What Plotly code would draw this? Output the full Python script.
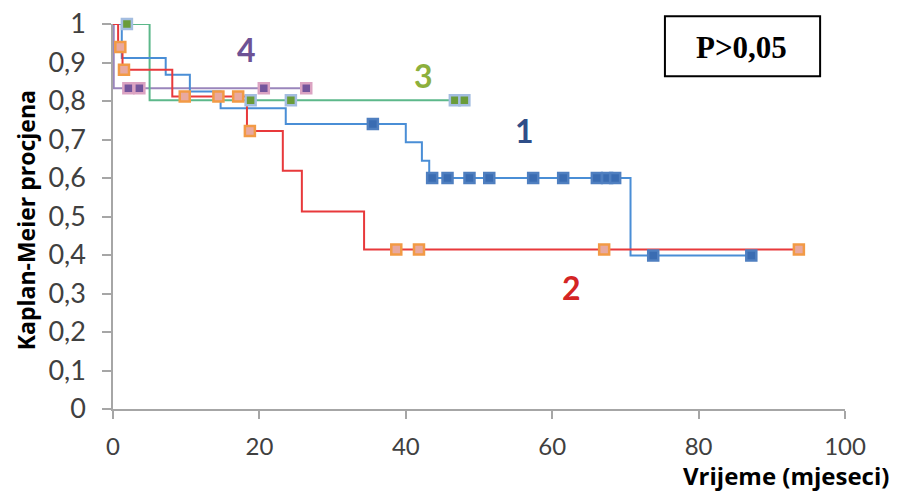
import plotly.graph_objects as go

# ---- data ----
x_ticks = [0, 20, 40, 60, 80, 100]
y_ticks = [0, 0.1, 0.2, 0.3, 0.4, 0.5, 0.6, 0.7, 0.8, 0.9, 1.0]
y_tick_labels = ["0", "0,1", "0,2", "0,3", "0,4", "0,5", "0,6", "0,7", "0,8", "0,9", "1"]

# group 1 (blue)
g1_t = [0, 1.2, 7.2, 10.5, 14.7, 23.6, 40.0, 42.2, 43.2, 70.7, 87.2]
g1_s = [1, 0.912, 0.868, 0.825, 0.781, 0.740, 0.693, 0.645, 0.600, 0.399, 0.399]
g1_ct = [35.5, 43.6, 45.7, 48.7, 51.4, 57.4, 61.5, 66.1, 67.5, 68.6, 73.8, 87.2]
g1_cs = [0.740, 0.600, 0.600, 0.600, 0.600, 0.600, 0.600, 0.600, 0.600, 0.600, 0.399, 0.399]

# group 2 (red)
g2_t = [0, 0.7, 1.3, 8.1, 18.3, 23.2, 25.8, 34.3, 93.7]
g2_s = [1, 0.940, 0.881, 0.812, 0.722, 0.619, 0.513, 0.414, 0.414]
g2_ct = [1.0, 1.5, 9.8, 14.4, 17.1, 18.7, 38.7, 41.8, 67.1, 93.7]
g2_cs = [0.940, 0.881, 0.812, 0.812, 0.812, 0.722, 0.414, 0.414, 0.414, 0.414]

# group 3 (green)
g3_t = [0, 5.0, 48.0]
g3_s = [1, 0.802, 0.802]
g3_ct = [1.9, 18.8, 24.3, 46.7, 48.0]
g3_cs = [1.0, 0.802, 0.802, 0.802, 0.802]

# group 4 (purple)
g4_t = [0, 0.1, 26.4]
g4_s = [1, 0.833, 0.833]
g4_ct = [2.1, 3.6, 20.6, 26.4]
g4_cs = [0.833, 0.833, 0.833, 0.833]

group_labels = ["1", "2", "3", "4"]
label_x = [56.2, 62.7, 42.4, 18.2]
label_y = [0.723, 0.315, 0.866, 0.933]

# ---- styles ----
groups = [
    (g1_t, g1_s, g1_ct, g1_cs, "#4a8ed6", "#3a6cb2", "#4f7fc0", "#2f4e88"),
    (g2_t, g2_s, g2_ct, g2_cs, "#e8393b", "#e8a9a0", "#f29a45", "#d42424"),
    (g3_t, g3_s, g3_ct, g3_cs, "#5cb88a", "#6a9c3a", "#a3bde0", "#8db03c"),
    (g4_t, g4_s, g4_ct, g4_cs, "#9a86bc", "#74559c", "#dba3c2", "#6d5295"),
]

fig = go.Figure()
draw_order = [3, 2, 0, 1]
for i in draw_order:
    t, s, ct, cs, lc, mc, mlc, _ = groups[i]
    fig.add_trace(go.Scatter(x=t, y=s, mode="lines", line=dict(color=lc, width=2, shape="hv"),
                             showlegend=False, hoverinfo="skip", cliponaxis=False))
for i in draw_order:
    t, s, ct, cs, lc, mc, mlc, _ = groups[i]
    fig.add_trace(go.Scatter(x=ct, y=cs, mode="markers",
                             marker=dict(symbol="square", size=10, color=mc,
                                         line=dict(color=mlc, width=2.5)),
                             showlegend=False, hoverinfo="skip", cliponaxis=False))

for i, lab in enumerate(group_labels):
    fig.add_annotation(x=label_x[i], y=label_y[i], xref="x", yref="y", text="<b>%s</b>" % lab,
                       xanchor="center", yanchor="middle",
                       showarrow=False, font=dict(family="Lato", size=32, color=groups[i][7]))

# P-value box
fig.add_shape(type="rect", xref="paper", yref="paper", x0=0.754, x1=0.966, y0=0.864, y1=1.020,
              line=dict(color="black", width=2), fillcolor="white", layer="below")
fig.add_annotation(xref="paper", yref="paper", x=0.858, y=0.940, text="<b>P&gt;0,05</b>",
                   xanchor="center", yanchor="middle",
                   showarrow=False, font=dict(family="Liberation Serif", size=31, color="black"))

# axis titles
fig.add_annotation(xref="paper", yref="paper", x=-0.119, y=0.49, text="<b>Kaplan-Meier procjena</b>",
                   xanchor="center", yanchor="middle",
                   textangle=-90, showarrow=False, font=dict(family="Open Sans", size=23, color="black"))
fig.add_annotation(xref="paper", yref="paper", x=0.919, y=-0.172,
                   xanchor="center", yanchor="middle",
                   text="<b>Vrijeme (mjeseci)</b>", showarrow=False,
                   font=dict(family="Open Sans", size=24, color="black"))

fig.update_xaxes(range=[0, 100], tickvals=x_ticks, ticktext=[str(v) for v in x_ticks],
                 showgrid=False, zeroline=False, showline=True, linecolor="#a6a6a6", linewidth=1.5,
                 ticks="outside", ticklen=8, tickcolor="#a6a6a6", tickwidth=1.5,
                 tickfont=dict(family="Lato", size=24, color="#404040"), ticklabelstandoff=7,
                 ticklabeloverflow="allow")
fig.update_yaxes(range=[0, 1], tickvals=y_ticks, ticktext=y_tick_labels,
                 showgrid=False, zeroline=False, showline=True, linecolor="#a6a6a6", linewidth=1.5,
                 ticks="outside", ticklen=9, tickcolor="#a6a6a6", tickwidth=1.5,
                 tickfont=dict(family="Lato", size=27, color="#404040"), ticklabelstandoff=11,
                 ticklabeloverflow="allow")

fig.update_layout(width=890, height=488, margin=dict(l=105, r=53, t=16, b=87, autoexpand=False),
                  plot_bgcolor="white", paper_bgcolor="white", showlegend=False)

fig.write_html("out.html")
